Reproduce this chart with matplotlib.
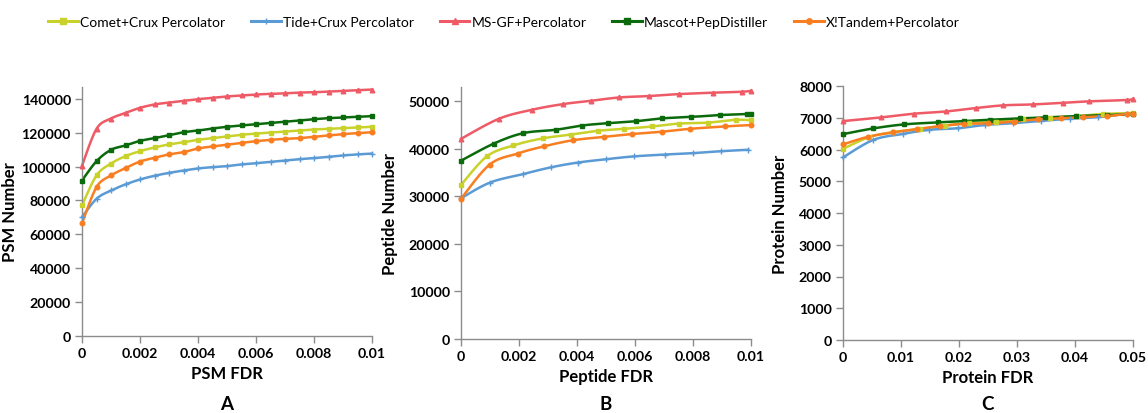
import numpy as np
import matplotlib
matplotlib.use("Agg")
import matplotlib.pyplot as plt

plt.rcParams['font.family'] = ['Lato', 'DejaVu Sans']

names = ["Comet+Crux Percolator", "Tide+Crux Percolator", "MS-GF+Percolator",
         "Mascot+PepDistiller", "X!Tandem+Percolator"]
colors = ["#C9D22B", "#5B9BD5", "#EE5A66", "#0B6A0B", "#F97E22"]
markers = ["s", "+", "^", "s", "o"]

# Panel A: PSM level, FDR 0..0.01 step 0.0005
psm_fdr = [i * 0.0005 for i in range(21)]
psm_comet = [77.1, 94.8, 101.8, 106.2, 109.1, 111.3, 113.1, 114.4, 115.8, 116.8, 117.8,
             118.8, 119.5, 120.1, 120.7, 121.3, 121.9, 122.3, 122.7, 123.1, 123.5]
psm_tide = [70.2, 81.0, 85.9, 89.5, 92.4, 94.6, 96.3, 97.7, 98.9, 99.7, 100.3,
            101.3, 102.0, 102.8, 103.6, 104.4, 105.0, 105.8, 106.6, 107.2, 107.7]
psm_msgf = [100.5, 122.3, 128.4, 131.7, 134.7, 136.7, 137.8, 138.8, 139.8, 140.6, 141.4,
            142.0, 142.6, 142.9, 143.3, 143.7, 143.9, 144.3, 144.7, 145.1, 145.5]
psm_mascot = [91.8, 103.2, 109.9, 112.5, 115.2, 116.8, 118.6, 120.3, 121.3, 122.5, 123.5,
              124.3, 125.0, 125.8, 126.4, 127.2, 128.0, 128.6, 129.0, 129.4, 129.8]
psm_xtandem = [66.5, 87.9, 94.8, 99.1, 103.0, 105.2, 107.2, 108.5, 110.7, 111.9, 112.9,
               114.0, 115.0, 115.8, 116.4, 116.8, 117.6, 118.4, 119.2, 119.7, 120.3]

# Panel B: peptide level (x, y in thousands)
pep_comet_x = [0, 0.00089, 0.0018, 0.00282, 0.00379, 0.00474, 0.00562, 0.0066, 0.0075, 0.0085, 0.00947, 0.01]
pep_comet_y = [32.4, 38.4, 40.7, 42.2, 43.0, 43.8, 44.2, 44.7, 45.3, 45.5, 46.1, 46.0]
pep_tide_x = [0, 0.001, 0.00215, 0.0031, 0.00402, 0.00499, 0.00595, 0.00705, 0.00801, 0.00898, 0.00991]
pep_tide_y = [29.6, 32.9, 34.7, 36.1, 37.1, 37.8, 38.4, 38.8, 39.1, 39.5, 39.8]
pep_msgf_x = [0, 0.0013, 0.00244, 0.00352, 0.00448, 0.00546, 0.00648, 0.0075, 0.00868, 0.00968, 0.01]
pep_msgf_y = [42.1, 46.3, 48.2, 49.4, 50.1, 50.8, 51.1, 51.5, 51.8, 52.0, 52.2]
pep_mascot_x = [0, 0.00113, 0.00215, 0.00326, 0.00417, 0.00508, 0.00602, 0.00692, 0.00793, 0.00892, 0.00985, 0.01]
pep_mascot_y = [37.5, 41.1, 43.3, 44.0, 44.9, 45.4, 45.8, 46.4, 46.7, 47.1, 47.3, 47.4]
pep_xtandem_x = [0, 0.00099, 0.00195, 0.00285, 0.00386, 0.00492, 0.0059, 0.00692, 0.0079, 0.00909, 0.01]
pep_xtandem_y = [29.5, 36.7, 39.0, 40.5, 41.8, 42.5, 43.1, 43.6, 44.2, 44.7, 45.0]

# Panel C: protein level (x, y in thousands)
prot_comet_x = [0, 0.0045, 0.0087, 0.0133, 0.0175, 0.0218, 0.0264, 0.0310, 0.0357, 0.0403, 0.0448, 0.05]
prot_comet_y = [6.02, 6.39, 6.55, 6.65, 6.75, 6.83, 6.88, 6.95, 6.99, 7.05, 7.12, 7.15]
prot_tide_x = [0, 0.0052, 0.0103, 0.0149, 0.0198, 0.0244, 0.0293, 0.0342, 0.0391, 0.0440, 0.0489]
prot_tide_y = [5.75, 6.30, 6.49, 6.62, 6.67, 6.77, 6.83, 6.90, 6.97, 7.02, 7.13]
prot_msgf_x = [0, 0.0065, 0.0122, 0.0178, 0.0229, 0.0276, 0.0327, 0.0379, 0.0424, 0.049, 0.05]
prot_msgf_y = [6.895, 7.01, 7.126, 7.20, 7.305, 7.39, 7.42, 7.47, 7.516, 7.56, 7.60]
prot_mascot_x = [0, 0.0052, 0.0105, 0.0163, 0.0209, 0.0254, 0.0305, 0.0349, 0.0401, 0.0455, 0.05]
prot_mascot_y = [6.484, 6.663, 6.79, 6.853, 6.895, 6.937, 6.98, 7.01, 7.05, 7.085, 7.105]
prot_xtandem_x = [0, 0.0043, 0.0087, 0.0127, 0.0168, 0.0209, 0.0250, 0.0294, 0.0336, 0.0376, 0.0414, 0.0455, 0.0489, 0.05]
prot_xtandem_y = [6.16, 6.40, 6.54, 6.64, 6.74, 6.81, 6.82, 6.88, 6.95, 6.98, 7.02, 7.05, 7.12, 7.13]


def smooth(x, y, n=12):
    # Excel-like smoothed line (Catmull-Rom through the points)
    x = np.asarray(x, float)
    y = np.asarray(y, float)
    px = np.concatenate([[x[0]], x, [x[-1]]])
    py = np.concatenate([[y[0]], y, [y[-1]]])
    xs, ys = [], []
    t = np.linspace(0, 1, n, endpoint=False)
    for i in range(1, len(px) - 2):
        p0x, p1x, p2x, p3x = px[i - 1], px[i], px[i + 1], px[i + 2]
        p0y, p1y, p2y, p3y = py[i - 1], py[i], py[i + 1], py[i + 2]
        c1x, c1y = p1x + (p2x - p0x) / 6, p1y + (p2y - p0y) / 6
        c2x, c2y = p2x - (p3x - p1x) / 6, p2y - (p3y - p1y) / 6
        b0, b1, b2, b3 = (1 - t) ** 3, 3 * t * (1 - t) ** 2, 3 * t ** 2 * (1 - t), t ** 3
        xs.append(b0 * p1x + b1 * c1x + b2 * c2x + b3 * p2x)
        ys.append(b0 * p1y + b1 * c1y + b2 * c2y + b3 * p2y)
    xs.append([x[-1]])
    ys.append([y[-1]])
    return np.concatenate(xs), np.concatenate(ys)


fig = plt.figure(figsize=(11.48, 4.14), dpi=100)
W, H = 1148.0, 414.0

panels = [
    dict(box=(82, 88, 372, 337), xmax=0.01, xstep=0.002, ymax=147000, ystep=20000,
         xlabel="PSM FDR", ylabel="PSM Number", tag="A", ylab_x=18,
         series=[(psm_fdr, psm_comet), (psm_fdr, psm_tide), (psm_fdr, psm_msgf),
                 (psm_fdr, psm_mascot), (psm_fdr, psm_xtandem)]),
    dict(box=(461, 88, 751, 340), xmax=0.01, xstep=0.002, ymax=53000, ystep=10000,
         xlabel="Peptide FDR", ylabel="Peptide Number", tag="B", ylab_x=398,
         series=[(pep_comet_x, pep_comet_y), (pep_tide_x, pep_tide_y), (pep_msgf_x, pep_msgf_y),
                 (pep_mascot_x, pep_mascot_y), (pep_xtandem_x, pep_xtandem_y)]),
    dict(box=(843, 87, 1133, 341), xmax=0.05, xstep=0.01, ymax=8000, ystep=1000,
         xlabel="Protein FDR", ylabel="Protein Number", tag="C", ylab_x=788,
         series=[(prot_comet_x, prot_comet_y), (prot_tide_x, prot_tide_y), (prot_msgf_x, prot_msgf_y),
                 (prot_mascot_x, prot_mascot_y), (prot_xtandem_x, prot_xtandem_y)]),
]

handles = []
for p in panels:
    l, t, r, b = p["box"]
    ax = fig.add_axes([l / W, 1 - b / H, (r - l) / W, (b - t) / H])
    for k, (xs, ys) in enumerate(p["series"]):
        ys = np.asarray(ys) * 1000
        sx, sy = smooth(xs, ys)
        ax.plot(sx, sy, color=colors[k], lw=1.8, zorder=2, clip_on=False)
        ms = 4.2 if markers[k] == "+" else 3.3
        ax.plot(xs, ys, ls="none", marker=markers[k], color=colors[k], ms=ms,
                mew=1.0, zorder=3, clip_on=False)
    ax.set_xlim(0, p["xmax"])
    ax.set_ylim(0, p["ymax"])
    ax.set_xticks(np.arange(0, p["xmax"] + 1e-9, p["xstep"]))
    ax.set_xticklabels(["0"] + ["%g" % v for v in np.arange(p["xstep"], p["xmax"] + 1e-9, p["xstep"])])
    ax.set_yticks(np.arange(0, p["ymax"] + 1, p["ystep"]))
    for s in ["top", "right"]:
        ax.spines[s].set_visible(False)
    for s in ["left", "bottom"]:
        ax.spines[s].set_color("#8c8c8c")
        ax.spines[s].set_linewidth(1.0)
    ax.tick_params(axis="both", colors="#8c8c8c", length=5, width=1.0, labelcolor="black",
                   labelsize=10.2, pad=3)
    for lab in ax.get_xticklabels() + ax.get_yticklabels():
        lab.set_fontweight("bold")
    ax.set_xlabel(p["xlabel"], fontsize=12, fontweight="bold", labelpad=4)
    ax.set_ylabel(p["ylabel"], fontsize=12, fontweight="bold")
    ax.yaxis.set_label_coords((p["ylab_x"] - l) / (r - l), 0.5)
    fig.text((l + r) / 2 / W, 1 - 405 / H, p["tag"], ha="center", va="center",
             fontsize=13.5, fontweight="bold")

for k in range(5):
    h, = plt.plot([], [], color=colors[k], lw=2.2, marker=markers[k], ms=4)
    handles.append(h)

fig.legend(handles, names, loc="center", bbox_to_anchor=(504 / W, 1 - 23 / H), ncol=5,
           frameon=False, fontsize=10, handlelength=2.15, handletextpad=0.15,
           columnspacing=1.85)

fig.savefig("out.png", dpi=100)
